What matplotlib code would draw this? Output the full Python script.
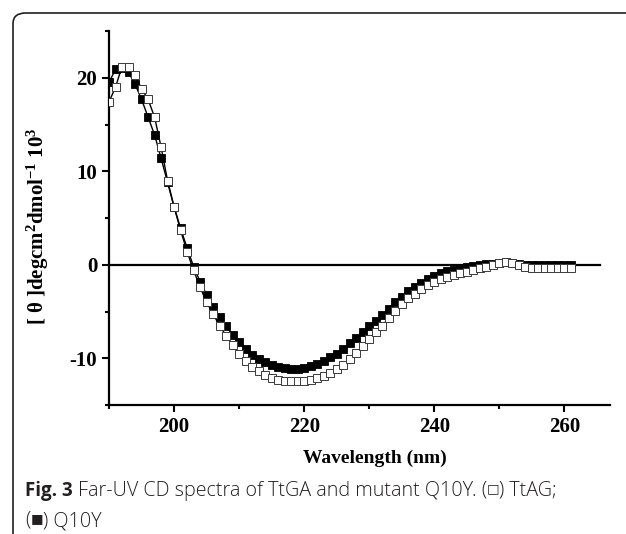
import numpy as np
import matplotlib.pyplot as plt
from matplotlib.patches import FancyBboxPatch

# wavelength (nm), 1 nm steps
wavelength = np.arange(190, 262, 1)

# Q10Y (filled squares)
q10y = [19.5, 20.9, 21.0, 20.6, 19.3, 17.7, 15.8, 13.9, 11.4, 8.8,
        6.2, 3.9, 1.8, -0.2, -1.8, -3.2, -4.5, -5.6, -6.6, -7.5,
        -8.3, -9.0, -9.6, -10.1, -10.4, -10.7, -10.9, -11.0, -11.1, -11.1,
        -11.0, -10.8, -10.6, -10.3, -9.9, -9.5, -9.0, -8.4, -7.8, -7.2,
        -6.6, -6.0, -5.4, -4.7, -4.0, -3.4, -2.8, -2.4, -1.9, -1.5,
        -1.2, -0.9, -0.7, -0.6, -0.4, -0.2, -0.1, 0.0, 0.1, 0.1,
        0.2, 0.3, 0.2, 0.1, 0.0, 0.0, 0.0, 0.0, 0.0, 0.0,
        0.0, 0.0]

# TtAG (open squares)
ttag = [17.4, 19.0, 21.2, 21.2, 20.3, 18.8, 17.7, 15.8, 12.6, 9.0,
        6.2, 3.7, 1.4, -0.6, -2.4, -4.0, -5.3, -6.5, -7.6, -8.6,
        -9.5, -10.3, -10.9, -11.4, -11.8, -12.1, -12.3, -12.4, -12.4, -12.4,
        -12.4, -12.3, -12.1, -11.9, -11.6, -11.2, -10.7, -10.1, -9.4, -8.7,
        -7.9, -7.2, -6.5, -5.7, -4.9, -4.2, -3.6, -3.1, -2.6, -2.2,
        -1.8, -1.5, -1.3, -1.1, -0.9, -0.8, -0.6, -0.4, -0.2, 0.0,
        0.2, 0.3, 0.2, 0.0, -0.2, -0.3, -0.3, -0.3, -0.3, -0.3,
        -0.3, -0.3]

xticks = [200, 220, 240, 260]
yticks = [-10, 0, 10, 20]

plt.rcParams['mathtext.default'] = 'regular'
plt.rcParams['axes.unicode_minus'] = False
serif = 'Liberation Serif'

fig = plt.figure(figsize=(6.26, 5.34), dpi=100)
ax = fig.add_axes([109/626, 1-405/534, 501/626, 374/534])

# zero line
ax.plot([190, 265.5], [0, 0], color='k', lw=1.6, zorder=1)

ax.plot(wavelength, q10y, color='k', lw=1.0, marker='s', ms=6,
        mfc='k', mec='k', mew=0.6, zorder=2)
ax.plot(wavelength, ttag, color='k', lw=1.0, marker='s', ms=6,
        mfc='white', mec='#3a3a3a', mew=0.7, zorder=3)

ax.set_xlim(190, 267)
ax.set_ylim(-15, 25)
ax.set_xticks(xticks)
ax.set_xticks(np.arange(190, 267, 10), minor=True)
ax.set_yticks(yticks)
ax.set_yticks(np.arange(-15, 26, 5), minor=True)

for s in ['top', 'right']:
    ax.spines[s].set_visible(False)
for s in ['left', 'bottom']:
    ax.spines[s].set_linewidth(1.6)
ax.tick_params(which='major', direction='out', length=5, width=1.5)
ax.tick_params(which='minor', direction='out', length=3, width=1.5)
for lab in ax.get_xticklabels() + ax.get_yticklabels():
    lab.set_fontfamily(serif)
    lab.set_fontweight('bold')
    lab.set_fontsize(15)

fig.text(375/626, 1-458/534, 'Wavelength (nm)', ha='center', va='center',
         family=serif, weight='bold', fontsize=14)
fig.text(38/626, 1-226/534, r'[ θ ]degcm$^{2}$dmol$^{-1}$ 10$^{3}$',
         rotation=90, ha='center', va='center',
         family=serif, weight='bold', fontsize=15)

# caption, written piece by piece
cap_color = '#231f20'
fig.canvas.draw()
renderer = fig.canvas.get_renderer()


def caption_line(pieces, x0, y):
    x = x0
    for s, fam, w, size, gap, dy in pieces:
        t = fig.text(x/626, 1-(y-dy)/534, s, ha='left', va='baseline',
                     family=fam, weight=w, fontsize=size, color=cap_color)
        x = t.get_window_extent(renderer).x1 + gap


caption_line([('Fig. 3', 'Open Sans', 'bold', 13.5, 5, 0),
              ('Far-UV CD spectra of TtGA and mutant Q10Y. (', 'Open Sans', 'light', 14.2, 0, 0),
              ('\u25a1', 'DejaVu Sans', 'normal', 9.5, 0, 4),
              (') TtAG;', 'Open Sans', 'light', 14.2, 0, 0)], 25, 496)
caption_line([('(', 'Open Sans', 'light', 14.2, 0, 0),
              ('\u25a0', 'DejaVu Sans', 'normal', 9.5, 0, 4),
              (') Q10Y', 'Open Sans', 'light', 14.2, 0, 0)], 25, 526)

# rounded frame (open to the right and bottom)
frame = FancyBboxPatch((13/626, -0.2), 1.2, 1-13/534+0.2,
                       boxstyle='round,pad=0,rounding_size=0.02',
                       transform=fig.transFigure, fill=False,
                       edgecolor='#231f20', lw=1.2)
fig.patches.append(frame)

fig.savefig('out.png', dpi=100)
